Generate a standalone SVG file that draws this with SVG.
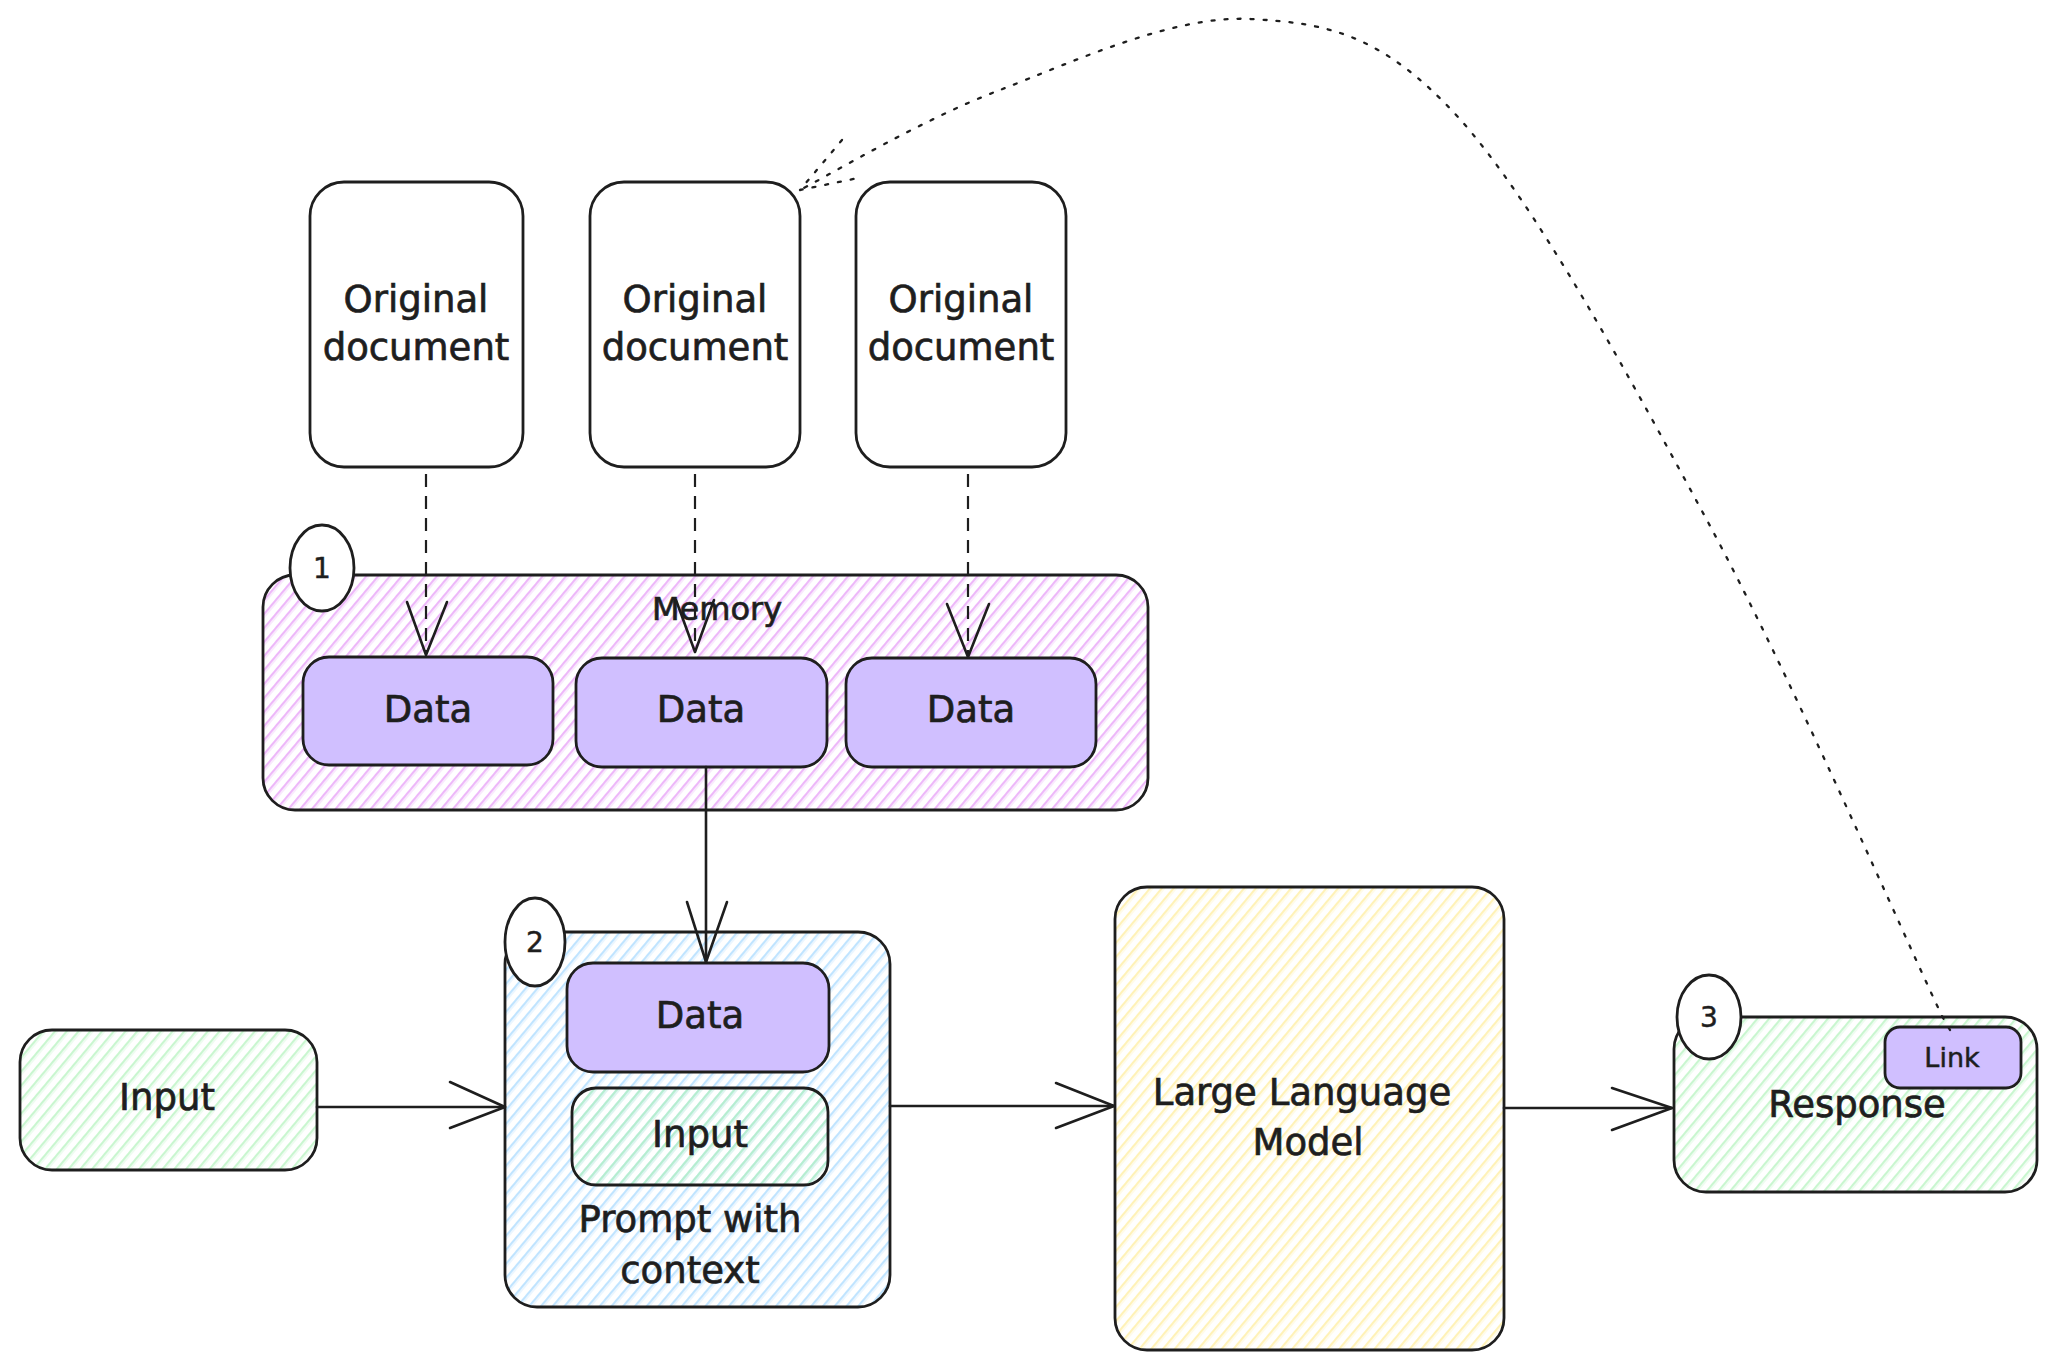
<svg xmlns="http://www.w3.org/2000/svg" width="2053" height="1370" viewBox="0 0 2053 1370">
<defs>
<pattern id="hPink" width="9" height="9" patternUnits="userSpaceOnUse" patternTransform="rotate(40)"><line x1="3" y1="0" x2="3" y2="9" stroke="#e599f7" stroke-width="1.4"/><line x1="5" y1="0" x2="5" y2="9" stroke="#e599f7" stroke-width="0.8" stroke-opacity="0.55"/></pattern>
<pattern id="hBlue" width="9" height="9" patternUnits="userSpaceOnUse" patternTransform="rotate(40)"><line x1="3" y1="0" x2="3" y2="9" stroke="#a5d8ff" stroke-width="1.4"/><line x1="5" y1="0" x2="5" y2="9" stroke="#a5d8ff" stroke-width="0.8" stroke-opacity="0.55"/></pattern>
<pattern id="hGreen" width="9" height="9" patternUnits="userSpaceOnUse" patternTransform="rotate(40)"><line x1="3" y1="0" x2="3" y2="9" stroke="#b2f2bb" stroke-width="1.4"/><line x1="5" y1="0" x2="5" y2="9" stroke="#b2f2bb" stroke-width="0.8" stroke-opacity="0.55"/></pattern>
<pattern id="hYellow" width="9" height="9" patternUnits="userSpaceOnUse" patternTransform="rotate(40)"><line x1="3" y1="0" x2="3" y2="9" stroke="#ffec99" stroke-width="1.4"/><line x1="5" y1="0" x2="5" y2="9" stroke="#ffec99" stroke-width="0.8" stroke-opacity="0.55"/></pattern>
</defs>
<style>
.box{stroke:#1e1e1e;stroke-width:2.8;fill:none}
.data{fill:#d0bfff}
.badge{fill:#ffffff;stroke:#1e1e1e;stroke-width:2.8}
.t{font-family:"DejaVu Sans",sans-serif;font-size:37px;fill:#1e1e1e;stroke:#1e1e1e;stroke-width:0.7;text-anchor:middle}
.tm{font-size:32px}
.tl{font-size:27px;stroke-width:0.5}
.tn{font-size:28px;stroke-width:0.5}
.ln{stroke:#1e1e1e;stroke-width:2.6;fill:none;stroke-linecap:round;stroke-linejoin:round}
.dash{stroke-dasharray:13 9;stroke-linecap:butt;stroke-width:2.2}
.dot{stroke-dasharray:3 10;stroke-width:2.3}
</style>
<rect width="2053" height="1370" fill="#ffffff"/>

<g id="doc1">
<rect class="box" x="310" y="182" width="213" height="285" rx="34"/>
<text class="t" x="416" y="312">Original</text>
<text class="t" x="416" y="360">document</text>
</g>
<g id="doc2">
<rect class="box" x="590" y="182" width="210" height="285" rx="34"/>
<text class="t" x="695" y="312">Original</text>
<text class="t" x="695" y="360">document</text>
</g>
<g id="doc3">
<rect class="box" x="856" y="182" width="210" height="285" rx="34"/>
<text class="t" x="961" y="312">Original</text>
<text class="t" x="961" y="360">document</text>
</g>

<g id="memory">
<rect class="box" x="263" y="575" width="885" height="235" rx="32" style="fill:url(#hPink)"/>
<text class="t tm" x="717" y="620">Memory</text>
</g>
<g id="data1">
<rect class="box data" x="303" y="657" width="250" height="108" rx="26"/>
<text class="t" x="428" y="722">Data</text>
</g>
<g id="data2">
<rect class="box data" x="576" y="658" width="251" height="109" rx="26"/>
<text class="t" x="701" y="722">Data</text>
</g>
<g id="data3">
<rect class="box data" x="846" y="658" width="250" height="109" rx="26"/>
<text class="t" x="971" y="722">Data</text>
</g>
<g id="badge1">
<ellipse class="badge" cx="322" cy="568" rx="32" ry="43"/>
<text class="t tn" x="322" y="578">1</text>
</g>

<g id="input">
<rect class="box" x="20" y="1030" width="297" height="140" rx="32" style="fill:url(#hGreen)"/>
<text class="t" x="167" y="1110">Input</text>
</g>

<g id="prompt">
<rect class="box" x="505" y="932" width="385" height="375" rx="32" style="fill:url(#hBlue)"/>
<text class="t" x="690" y="1232">Prompt with</text>
<text class="t" x="690" y="1283">context</text>
</g>
<g id="promptData">
<rect class="box data" x="567" y="963" width="262" height="109" rx="26"/>
<text class="t" x="700" y="1028">Data</text>
</g>
<g id="promptInput">
<rect class="box" x="572" y="1088" width="256" height="97" rx="24" style="fill:url(#hGreen)"/>
<text class="t" x="700" y="1147">Input</text>
</g>
<g id="badge2">
<ellipse class="badge" cx="535" cy="942" rx="30" ry="44"/>
<text class="t tn" x="535" y="952">2</text>
</g>

<g id="llm">
<rect class="box" x="1115" y="887" width="389" height="463" rx="32" style="fill:url(#hYellow)"/>
<text class="t" x="1302" y="1105">Large Language</text>
<text class="t" x="1308" y="1155">Model</text>
</g>

<g id="response">
<rect class="box" x="1674" y="1017" width="363" height="175" rx="32" style="fill:url(#hGreen)"/>
<text class="t" x="1857" y="1117">Response</text>
</g>
<g id="link">
<rect class="box data" x="1885" y="1027" width="136" height="61" rx="15"/>
<text class="t tl" x="1952" y="1067">Link</text>
</g>
<g id="badge3">
<ellipse class="badge" cx="1709" cy="1017" rx="32" ry="42"/>
<text class="t tn" x="1709" y="1027">3</text>
</g>

<g id="connectors">
<path class="ln dash" d="M426 474 L426 654"/>
<path class="ln" d="M407 602 L426 655 L447 602"/>
<path class="ln dash" d="M695 474 L695 652"/>
<path class="ln" d="M676 600 L695 652 L714 600"/>
<path class="ln dash" d="M968 474 L968 657"/>
<path class="ln" d="M947 604 L968 657 L989 604"/>
<path class="ln" d="M706 767 L706 962"/>
<path class="ln" d="M687 902 L706 962 L727 902"/>
<path class="ln" d="M317 1107 L505 1107"/>
<path class="ln" d="M450 1082 L505 1107 L450 1128"/>
<path class="ln" d="M890 1106 L1114 1106"/>
<path class="ln" d="M1056 1083 L1114 1106 L1056 1128"/>
<path class="ln" d="M1504 1108 L1672 1108"/>
<path class="ln" d="M1612 1088 L1672 1108 L1612 1130"/>
<path class="ln dot" d="M1950 1030 L1942 1016 C1903 934 1790 674 1709 524 C1628 374 1534 201 1458 117 C1381 33 1326 23 1250 19 C1174 15 1075 61 1000 90 C925 118 833 173 800 190"/>
<path class="ln dot" d="M842 140 L800 190 L858 178"/>
</g>
</svg>
